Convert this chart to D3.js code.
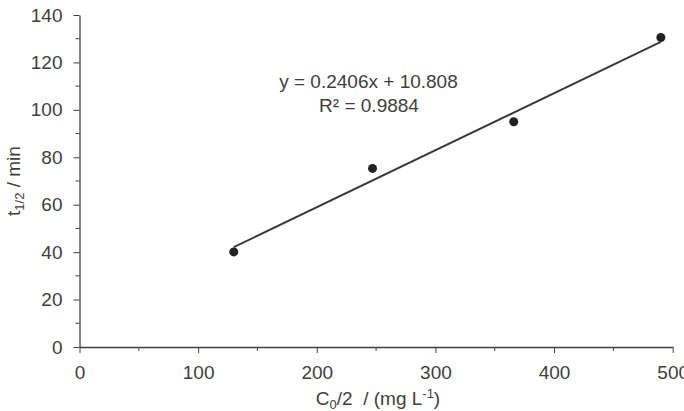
<!DOCTYPE html>
<html>
<head>
<meta charset="utf-8">
<script src="https://cdn.jsdelivr.net/npm/d3@7"></script>
<style>
  html, body { margin: 0; padding: 0; background: #fff; }
  svg { display: block; }
</style>
</head>
<body>
<svg id="chart"></svg>
<script>
// ── Data ─────────────────────────────────────────────
const xValues = [130, 247, 366, 490];
const yValues = [40.1, 75.3, 95.0, 130.5];
const xTicks  = [0, 100, 200, 300, 400, 500];
const yTicks  = [0, 20, 40, 60, 80, 100, 120, 140];
const fitSlope     = 0.2406;
const fitIntercept = 10.808;
const fitLabel = 'y = 0.2406x + 10.808';
const r2Label  = 'R² = 0.9884';

const W = 684, H = 411;
const FONT = 'Liberation Sans, Arial, sans-serif';
const INK  = '#404040';
const FS   = 19;

const svg = d3.select('#chart').attr('width', W).attr('height', H);

// ── Scales ───────────────────────────────────────────
const x = d3.scaleLinear().domain([0, 500]).range([79.5, 672.7]);
const y = d3.scaleLinear().domain([0, 140]).range([347, 15]);

// minor ticks (no labels)
const xMinor = d3.range(50, 500, 100);
const yMinor = d3.range(10, 140, 20);

svg.append('g')
  .selectAll('line')
  .data(xMinor)
  .join('line')
    .attr('x1', d => x(d)).attr('x2', d => x(d))
    .attr('y1', y(0)).attr('y2', y(0) + 4)
    .attr('stroke', INK).attr('stroke-width', 1);

svg.append('g')
  .selectAll('line')
  .data(yMinor)
  .join('line')
    .attr('x1', x(0) - 4).attr('x2', x(0))
    .attr('y1', d => y(d)).attr('y2', d => y(d))
    .attr('stroke', INK).attr('stroke-width', 1);

// ── Axes ─────────────────────────────────────────────
const axisStyle = sel => sel
  .call(ax => ax.select('.domain').attr('stroke', INK).attr('stroke-width', 1.3))
  .call(ax => ax.selectAll('.tick line').attr('stroke', INK).attr('stroke-width', 1))
  .call(ax => ax.selectAll('text').attr('fill', INK).attr('font-size', FS).attr('font-family', FONT));

svg.append('g')
  .attr('transform', `translate(0,${y(0)})`)
  .call(d3.axisBottom(x).tickValues(xTicks).tickSize(6).tickSizeOuter(0).tickPadding(13))
  .call(axisStyle);

svg.append('g')
  .attr('transform', `translate(${x(0)},0)`)
  .call(d3.axisLeft(y).tickValues(yTicks).tickSize(6).tickSizeOuter(0).tickPadding(11))
  .call(axisStyle);

// ── Trend line ───────────────────────────────────────
const xExt = d3.extent(xValues);
svg.append('line')
  .attr('x1', x(xExt[0])).attr('y1', y(fitSlope * xExt[0] + fitIntercept))
  .attr('x2', x(xExt[1])).attr('y2', y(fitSlope * xExt[1] + fitIntercept))
  .attr('stroke', '#3a3a3a').attr('stroke-width', 2);

// ── Points ───────────────────────────────────────────
svg.append('g')
  .selectAll('circle')
  .data(xValues.map((v, i) => [v, yValues[i]]))
  .join('circle')
    .attr('cx', d => x(d[0]))
    .attr('cy', d => y(d[1]))
    .attr('r', 4.5)
    .attr('fill', '#222');

// ── Equation ─────────────────────────────────────────
svg.append('text')
  .attr('x', 368.5).attr('y', 88)
  .attr('text-anchor', 'middle')
  .attr('fill', INK).attr('font-size', FS).attr('font-family', FONT)
  .text(fitLabel);

svg.append('text')
  .attr('x', 369).attr('y', 112)
  .attr('text-anchor', 'middle')
  .attr('fill', INK).attr('font-size', FS).attr('font-family', FONT)
  .text(r2Label);

// ── Axis titles ──────────────────────────────────────
const xt = svg.append('text')
  .attr('x', 378).attr('y', 405)
  .attr('text-anchor', 'middle')
  .attr('fill', INK).attr('font-size', FS).attr('font-family', FONT);
xt.append('tspan').text('C');
xt.append('tspan').attr('font-size', 13).attr('dy', 4).text('0');
xt.append('tspan').attr('dy', -4).text('/2\u00a0 / (mg L');
xt.append('tspan').attr('font-size', 13).attr('dy', -7).text('-1');
xt.append('tspan').attr('dy', 7).text(')');

const yt = svg.append('text')
  .attr('transform', `translate(20,181) rotate(-90)`)
  .attr('text-anchor', 'middle')
  .attr('fill', INK).attr('font-size', FS).attr('font-family', FONT);
yt.append('tspan').text('t');
yt.append('tspan').attr('font-size', 13).attr('dy', 4).text('1/2');
yt.append('tspan').attr('dy', -4).text(' / min');
</script>
</body>
</html>
